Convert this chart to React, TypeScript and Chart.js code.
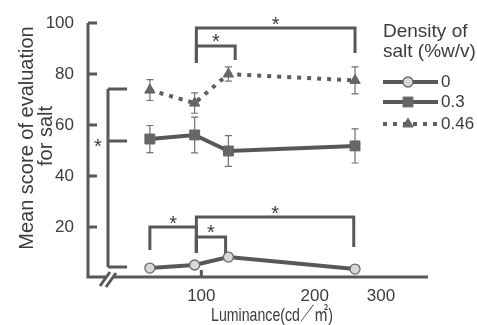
import React, { useEffect, useRef } from 'react';
import { Chart, registerables } from 'chart.js';
import { drawPoint } from 'chart.js/helpers';

Chart.register(...registerables);

const luminance = [73, 96, 118, 256];
const series0 = [3.9, 5.1, 8.2, 3.5];
const series0Err = [0.8, 0.8, 1.5, 0.8];
const series03 = [54.5, 56.1, 49.8, 51.8];
const series03Err = [5.3, 7.0, 6.0, 6.7];
const series046 = [73.7, 68.6, 80.0, 77.5];
const series046Err = [4.1, 4.0, 2.8, 5.3];
const seriesLabels = ['0', '0.3', '0.46'];
const xTicks = [100, 200, 300];
const yTicks = [20, 40, 60, 80, 100];
const legendTitle = ['Density of', 'salt (%w/v)'];
const yTitle = ['Mean score of evaluation', 'for salt'];
const xTitle = 'Luminance(cd／㎡)';

// significance brackets (data units): [xFrom, xTo, level, leftLegEnd, rightLegEnd]
const brackets = [
  [97, 256, 98, 84.3, 88.2],
  [97, 123, 91, 84.3, 85.5],
  [73, 97, 20, 11, 9.8],
  [97, 254, 23.9, 9.8, 12.2],
  [97, 116, 16.1, 9.8, 9],
];
// vertical bracket at the first luminance: x of spine, x of arms; arm levels
const sideBracketX = [56.5, 63.5];
const sideBracketLevels = [74.1, 53.7, 4.3];

const FONT = '"Liberation Sans", Arial, "Noto Sans CJK JP", sans-serif';
const TEXT = '#3c3c3c';
const LINE = '#585858';

const errorSets = [
  [series0, series0Err],
  [series03, series03Err],
  [series046, series046Err],
];

function star(ctx: CanvasRenderingContext2D, x: number, y: number) {
  ctx.save();
  ctx.font = `20px ${FONT}`;
  ctx.fillStyle = TEXT;
  ctx.textAlign = 'center';
  ctx.textBaseline = 'alphabetic';
  ctx.fillText('*', x, y + 11.5);
  ctx.restore();
}

const overlay = {
  id: 'overlay',
  beforeDatasetsDraw(chart: any) {
    const { ctx, scales } = chart;
    const xs = scales.x;
    const ys = scales.y;
    ctx.save();
    // error bars
    ctx.strokeStyle = '#707070';
    ctx.lineWidth = 1.2;
    errorSets.forEach(([vals, errs]) => {
      vals.forEach((v: number, i: number) => {
        const px = xs.getPixelForValue(luminance[i]);
        const t = ys.getPixelForValue(v + errs[i]);
        const b = ys.getPixelForValue(v - errs[i]);
        ctx.beginPath();
        ctx.moveTo(px, t); ctx.lineTo(px, b);
        ctx.moveTo(px - 3.5, t); ctx.lineTo(px + 3.5, t);
        ctx.moveTo(px - 3.5, b); ctx.lineTo(px + 3.5, b);
        ctx.stroke();
      });
    });
    // brackets
    ctx.strokeStyle = LINE;
    ctx.lineWidth = 3;
    ctx.lineJoin = 'miter';
    brackets.forEach(([x1, x2, lvl, l1, l2]) => {
      const a = xs.getPixelForValue(x1);
      const b = xs.getPixelForValue(x2);
      const yl = ys.getPixelForValue(lvl);
      ctx.beginPath();
      ctx.moveTo(a, ys.getPixelForValue(l1));
      ctx.lineTo(a, yl);
      ctx.lineTo(b, yl);
      ctx.lineTo(b, ys.getPixelForValue(l2));
      ctx.stroke();
      star(ctx, (a + b) / 2, yl - 9);
    });
    // side bracket
    const sx = xs.getPixelForValue(sideBracketX[0]);
    const ex = xs.getPixelForValue(sideBracketX[1]);
    ctx.beginPath();
    ctx.moveTo(sx, ys.getPixelForValue(sideBracketLevels[0]));
    ctx.lineTo(sx, ys.getPixelForValue(sideBracketLevels[2]));
    sideBracketLevels.forEach((lv) => {
      const py = ys.getPixelForValue(lv);
      ctx.moveTo(sx, py);
      ctx.lineTo(ex, py);
    });
    ctx.stroke();
    star(ctx, sx - 10, ys.getPixelForValue(sideBracketLevels[1]));
    ctx.restore();
  },
  afterDraw(chart: any) {
    const { ctx, chartArea, scales } = chart;
    const xs = scales.x;
    const ys = scales.y;
    const { left, right, top, bottom } = chartArea;
    ctx.save();
    ctx.strokeStyle = LINE;
    ctx.lineWidth = 3;
    ctx.lineCap = 'butt';
    // axes
    ctx.beginPath();
    ctx.moveTo(left, top);
    ctx.lineTo(left, bottom - 1);
    ctx.moveTo(left - 1.5, bottom - 1);
    ctx.lineTo(right, bottom - 1);
    yTicks.forEach((v) => {
      const py = ys.getPixelForValue(v);
      ctx.moveTo(left, py);
      ctx.lineTo(left + 9, py);
    });
    const p100 = xs.getPixelForValue(xTicks[0]);
    ctx.moveTo(p100, bottom - 1);
    ctx.lineTo(p100, bottom - 8);
    ctx.stroke();
    // axis break marks
    const bx = xs.getPixelForValue(sideBracketX[0]);
    const by = bottom;
    ctx.fillStyle = '#ffffff';
    ctx.beginPath();
    ctx.moveTo(bx - 6, by + 7);
    ctx.lineTo(bx + 2, by - 6);
    ctx.lineTo(bx + 8, by - 6);
    ctx.lineTo(bx, by + 7);
    ctx.closePath();
    ctx.fill();
    ctx.beginPath();
    ctx.moveTo(bx - 8, by + 8);
    ctx.lineTo(bx + 2, by - 6);
    ctx.moveTo(bx - 2, by + 9);
    ctx.lineTo(bx + 8, by - 5);
    ctx.stroke();

    // axis titles
    ctx.fillStyle = TEXT;
    ctx.font = `20px ${FONT}`;
    ctx.textAlign = 'center';
    ctx.textBaseline = 'alphabetic';
    ctx.save();
    ctx.translate(33, 138);
    ctx.rotate(-Math.PI / 2);
    ctx.fillText(yTitle[0], 0, 0, 232);
    ctx.restore();
    ctx.save();
    ctx.translate(52, 136);
    ctx.rotate(-Math.PI / 2);
    ctx.fillText(yTitle[1], 0, 0);
    ctx.restore();
    ctx.font = `19px ${FONT}`;
    ctx.fillText(xTitle, 272, 321, 122);

    // legend
    ctx.textAlign = 'left';
    ctx.font = `19px ${FONT}`;
    ctx.fillText(legendTitle[0], 383, 37);
    ctx.fillText(legendTitle[1], 383, 57);
    const rows = [82, 102, 124];
    chart.data.datasets.forEach((ds: any, i: number) => {
      const ry = rows[i];
      ctx.save();
      ctx.strokeStyle = ds.borderColor;
      ctx.lineWidth = ds.borderWidth;
      ctx.setLineDash(ds.borderDash || []);
      ctx.beginPath();
      ctx.moveTo(383, ry);
      ctx.lineTo(438, ry);
      ctx.stroke();
      ctx.setLineDash([]);
      ctx.fillStyle = ds.pointBackgroundColor;
      ctx.strokeStyle = ds.pointBorderColor;
      ctx.lineWidth = ds.pointBorderWidth;
      drawPoint(ctx, { pointStyle: ds.pointStyle, radius: ds.pointRadius, rotation: 0, borderWidth: ds.pointBorderWidth }, 408, ry);
      ctx.restore();
      ctx.fillStyle = TEXT;
      ctx.font = `17px ${FONT}`;
      ctx.textBaseline = 'middle';
      ctx.fillText(seriesLabels[i], 441, ry + 0.5);
    });
    ctx.restore();
  },
};

export default function App() {
  const ref = useRef<HTMLCanvasElement>(null);
  useEffect(() => {
    const pts = (vals: number[]) => vals.map((v, i) => ({ x: luminance[i], y: v }));
    const chart = new Chart(ref.current as HTMLCanvasElement, {
      type: 'line',
      data: {
        datasets: [
          {
            label: seriesLabels[0],
            data: pts(series0),
            borderColor: LINE,
            borderWidth: 4,
            pointStyle: 'circle',
            pointRadius: 5,
            pointBackgroundColor: '#d8d8d8',
            pointBorderColor: '#6a6a6a',
            pointBorderWidth: 1.3,
          },
          {
            label: seriesLabels[1],
            data: pts(series03),
            borderColor: LINE,
            borderWidth: 4,
            pointStyle: 'rect',
            pointRadius: 7,
            pointBackgroundColor: '#666666',
            pointBorderColor: '#666666',
            pointBorderWidth: 1,
          },
          {
            label: seriesLabels[2],
            data: pts(series046),
            borderColor: '#5e5e5e',
            borderWidth: 4,
            borderDash: [4, 6],
            pointStyle: 'triangle',
            pointRadius: 6,
            pointBackgroundColor: '#666666',
            pointBorderColor: '#666666',
            pointBorderWidth: 1,
          },
        ],
      },
      options: {
        animation: false,
        responsive: true,
        maintainAspectRatio: false,
        layout: { padding: { top: 23, right: 49, left: 0, bottom: 0 } },
        plugins: { legend: { display: false }, tooltip: { enabled: false } },
        scales: {
          x: {
            type: 'logarithmic',
            min: 50,
            max: 400,
            grid: { display: false },
            border: { display: false },
            afterBuildTicks: (s: any) => {
              s.ticks = xTicks.map((v) => ({ value: v }));
            },
            afterFit: (s: any) => {
              s.height = 47;
            },
            ticks: {
              autoSkip: false,
              maxRotation: 0,
              padding: 0,
              color: TEXT,
              font: { family: FONT, size: 17 },
              callback: (v: any) => String(v),
            },
          },
          y: {
            min: 0,
            max: 100,
            grid: { display: false },
            border: { display: false },
            afterBuildTicks: (s: any) => {
              s.ticks = yTicks.map((v) => ({ value: v }));
            },
            afterFit: (s: any) => {
              s.width = 88;
            },
            ticks: {
              padding: 6,
              color: TEXT,
              font: { family: FONT, size: 17 },
            },
          },
        },
      },
      plugins: [overlay],
    });
    return () => chart.destroy();
  }, []);
  return (
    <div style={{ position: 'fixed', left: 0, top: 0, width: 477, height: 325, background: '#fff' }}>
      <canvas ref={ref} />
    </div>
  );
}
